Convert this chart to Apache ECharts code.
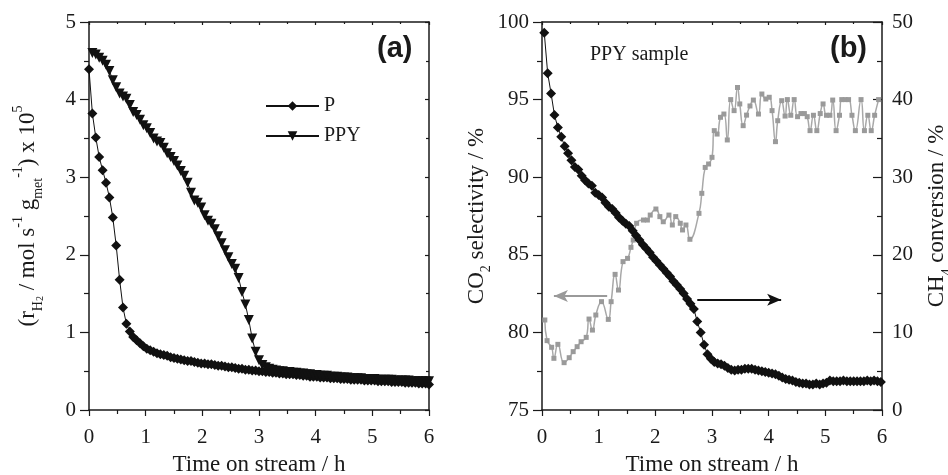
<!DOCTYPE html>
<html>
<head>
<meta charset="utf-8">
<script src="https://cdn.jsdelivr.net/npm/echarts@6/dist/echarts.min.js"></script>
<style>
  html, body { margin: 0; padding: 0; background: #fff; }
  #chart { width: 948px; height: 475px; }
</style>
</head>
<body>
<div id="chart"></div>
<script>
// panel (a): H2 production rate, x 10^5
const hoursA = [0, 0.06, 0.12, 0.18, 0.24, 0.3, 0.36, 0.42, 0.48, 0.54,
  0.6, 0.66, 0.72, 0.78, 0.84, 0.9, 0.96, 1.02, 1.08, 1.14,
  1.2, 1.26, 1.32, 1.38, 1.44, 1.5, 1.56, 1.62, 1.68, 1.74,
  1.8, 1.86, 1.92, 1.98, 2.04, 2.1, 2.16, 2.22, 2.28, 2.34,
  2.4, 2.46, 2.52, 2.58, 2.64, 2.7, 2.76, 2.82, 2.88, 2.94,
  3.0, 3.06, 3.12, 3.18, 3.24, 3.3, 3.36, 3.42, 3.48, 3.54,
  3.6, 3.66, 3.72, 3.78, 3.84, 3.9, 3.96, 4.02, 4.08, 4.14,
  4.2, 4.26, 4.32, 4.38, 4.44, 4.5, 4.56, 4.62, 4.68, 4.74,
  4.8, 4.86, 4.92, 4.98, 5.04, 5.1, 5.16, 5.22, 5.28, 5.34,
  5.4, 5.46, 5.52, 5.58, 5.64, 5.7, 5.76, 5.82, 5.88, 5.94,
  6.0]

const rateP = [4.39, 3.82, 3.51, 3.26, 3.09, 2.93, 2.74, 2.48, 2.12, 1.68,
  1.32, 1.11, 1.01, 0.94, 0.90, 0.86, 0.82, 0.79, 0.77, 0.75,
  0.73, 0.72, 0.71, 0.70, 0.68, 0.67, 0.66, 0.65, 0.64, 0.63,
  0.63, 0.62, 0.61, 0.60, 0.60, 0.59, 0.59, 0.58, 0.57, 0.57,
  0.56, 0.55, 0.55, 0.54, 0.53, 0.53, 0.52, 0.52, 0.51, 0.51,
  0.50, 0.50, 0.49, 0.49, 0.48, 0.48, 0.47, 0.47, 0.46, 0.46,
  0.46, 0.45, 0.45, 0.44, 0.44, 0.43, 0.43, 0.43, 0.42, 0.42,
  0.42, 0.41, 0.41, 0.41, 0.40, 0.40, 0.40, 0.39, 0.39, 0.39,
  0.39, 0.38, 0.38, 0.38, 0.38, 0.37, 0.37, 0.37, 0.37, 0.36,
  0.36, 0.36, 0.36, 0.35, 0.35, 0.35, 0.35, 0.34, 0.34, 0.34,
  0.33]

const ratePPY = [null, 4.60, 4.58, 4.54, 4.50, 4.45, 4.37, 4.25, 4.16, 4.08,
  4.04, 4.01, 3.93, 3.84, 3.80, 3.74, 3.67, 3.63, 3.57, 3.50,
  3.46, 3.44, 3.38, 3.31, 3.26, 3.21, 3.15, 3.08, 3.02, 2.93,
  2.80, 2.70, 2.67, 2.61, 2.51, 2.44, 2.40, 2.33, 2.24, 2.15,
  2.06, 1.97, 1.88, 1.82, 1.70, 1.52, 1.36, 1.16, 0.92, 0.75,
  0.64, 0.58, 0.55, 0.53, 0.52, 0.51, 0.50, 0.50, 0.49, 0.49,
  0.48, 0.48, 0.47, 0.47, 0.46, 0.46, 0.45, 0.45, 0.44, 0.44,
  0.44, 0.43, 0.43, 0.43, 0.42, 0.42, 0.42, 0.41, 0.41, 0.41,
  0.41, 0.40, 0.40, 0.40, 0.40, 0.39, 0.39, 0.39, 0.39, 0.39,
  0.38, 0.38, 0.38, 0.38, 0.38, 0.37, 0.37, 0.37, 0.37, 0.37,
  0.37]

// panel (b): PPY sample
const hoursB = [0.04, 0.1, 0.16, 0.22, 0.28, 0.34, 0.4, 0.46, 0.52, 0.58,
  0.64, 0.7, 0.76, 0.82, 0.88, 0.94, 1.0, 1.06, 1.12, 1.18,
  1.24, 1.3, 1.36, 1.42, 1.48, 1.54, 1.6, 1.66, 1.72, 1.78,
  1.84, 1.9, 1.96, 2.02, 2.08, 2.14, 2.2, 2.26, 2.32, 2.38,
  2.44, 2.5, 2.56, 2.62, 2.68, 2.74, 2.8, 2.86, 2.92, 2.98,
  3.04, 3.1, 3.16, 3.22, 3.28, 3.34, 3.4, 3.46, 3.52, 3.58,
  3.64, 3.7, 3.76, 3.82, 3.88, 3.94, 4.0, 4.06, 4.12, 4.18,
  4.24, 4.3, 4.36, 4.42, 4.48, 4.54, 4.6, 4.66, 4.72, 4.78,
  4.84, 4.9, 4.96, 5.02, 5.08, 5.14, 5.2, 5.26, 5.32, 5.38,
  5.44, 5.5, 5.56, 5.62, 5.68, 5.74, 5.8, 5.86, 5.92, 5.98]

const convCH4 = [48.6, 43.4, 40.8, 38.0, 36.4, 35.2, 34.0, 33.1, 32.2, 31.3,
  31.0, 30.2, 29.6, 29.2, 28.9, 28.0, 27.7, 27.4, 26.7, 26.2,
  25.9, 25.4, 24.8, 24.4, 24.0, 23.7, 23.1, 22.5, 21.9, 21.3,
  20.8, 20.3, 19.7, 19.2, 18.7, 18.2, 17.7, 17.2, 16.6, 16.1,
  15.6, 15.0, 14.3, 13.7, 13.0, 11.4, 10.0, 8.4, 7.2, 6.6,
  6.2, 6.0, 5.9, 5.7, 5.4, 5.2, 5.1, 5.2, 5.2, 5.3,
  5.3, 5.3, 5.2, 5.1, 5.0, 4.9, 4.8, 4.7, 4.6, 4.4,
  4.2, 4.0, 3.9, 3.8, 3.6, 3.5, 3.4, 3.4, 3.3, 3.3,
  3.4, 3.3, 3.4, 3.5, 3.8, 3.7, 3.7, 3.7, 3.8, 3.7,
  3.7, 3.7, 3.7, 3.7, 3.7, 3.8, 3.7, 3.8, 3.7, 3.6]

const selHours = [0.05, 0.09, 0.17, 0.21, 0.28, 0.39, 0.48, 0.55, 0.62, 0.69,
  0.78, 0.83, 0.89, 0.95, 1.05, 1.17, 1.22, 1.29, 1.35, 1.43,
  1.51, 1.57, 1.61, 1.67, 1.79, 1.86, 1.91, 2.01, 2.08, 2.14,
  2.24, 2.30, 2.36, 2.44, 2.48, 2.54, 2.61, 2.77, 2.82, 2.88,
  2.94, 3.00, 3.04, 3.09, 3.15, 3.21, 3.27, 3.33, 3.39, 3.45,
  3.49, 3.55, 3.61, 3.67, 3.73, 3.82, 3.88, 3.95, 4.01, 4.06,
  4.12, 4.16, 4.23, 4.29, 4.33, 4.39, 4.45, 4.51, 4.57, 4.63,
  4.68, 4.73, 4.79, 4.85, 4.91, 4.96, 5.02, 5.08, 5.13, 5.19,
  5.25, 5.29, 5.35, 5.41, 5.47, 5.53, 5.63, 5.69, 5.75, 5.81,
  5.87, 5.94]

const selCO2 = [80.8, 79.47, 79.04, 78.33, 79.23, 78.05, 78.37, 78.76, 79.08, 79.4,
  79.68, 80.86, 80.15, 81.12, 81.98, 80.84, 81.98, 83.74, 82.73, 84.56,
  84.77, 85.48, 85.95, 87.03, 87.24, 87.24, 87.56, 87.95, 87.46, 87.13,
  87.56, 86.92, 87.46, 87.03, 86.6, 86.92, 86.0, 87.67, 88.96, 90.63,
  90.85, 91.28, 93.0, 92.78, 93.86, 94.07, 92.4, 95.0, 94.29, 95.78,
  94.72, 93.32, 94.0, 94.59, 94.97, 94.07, 95.36, 95.04, 95.15, 94.29,
  92.29, 93.64, 94.93, 93.94, 95.0, 93.99, 95.0, 93.9, 94.1, 94.1,
  93.9, 93.0, 93.99, 93.0, 94.1, 94.72, 93.99, 93.99, 94.97, 93.0,
  93.99, 95.0, 95.0, 95.0, 93.99, 93.0, 95.0, 93.0, 93.99, 93.0,
  93.99, 95.0]

const pairs = (xs, ys) => xs.map((x, i) => [x, ys[i]]).filter(p => p[1] != null)

const serif = 'Liberation Serif'
const ink = '#1a1a1a'
const grey = '#9a9a9a'

const frameLine = { show: true, onZero: false, lineStyle: { color: ink, width: 1.5 } }

function timeAxis (grid, pos) {
  const bottom = pos === 'bottom'
  return {
    gridIndex: grid,
    type: 'value',
    position: pos,
    min: 0,
    max: 6,
    interval: 1,
    axisLine: frameLine,
    axisTick: { show: true, inside: !bottom, length: bottom ? 6 : 3, lineStyle: { color: ink, width: 1.2 } },
    minorTick: { show: true, splitNumber: 2, length: bottom ? 4 : 2, lineStyle: { color: ink, width: 1.2 } },
    splitLine: { show: false },
    axisLabel: { show: bottom, fontFamily: serif, fontSize: 21, color: ink, margin: 17 },
    name: bottom ? 'Time on stream / h' : '',
    nameLocation: 'middle',
    nameGap: 43,
    nameTextStyle: { fontFamily: serif, fontSize: 23, color: ink }
  }
}

const nameRich = {
  m: { fontFamily: serif, fontSize: 23, color: ink, lineHeight: 34, verticalAlign: 'middle' },
  s: { fontFamily: serif, fontSize: 14, color: ink, lineHeight: 22, verticalAlign: 'bottom' },
  ss: { fontFamily: serif, fontSize: 10, color: ink, lineHeight: 14, verticalAlign: 'bottom' },
  u: { fontFamily: serif, fontSize: 14, color: ink, lineHeight: 22, verticalAlign: 'top' }
}

function valueAxis (grid, pos, min, max, step, opts) {
  return Object.assign({
    gridIndex: grid,
    type: 'value',
    position: pos,
    min: min,
    max: max,
    interval: step,
    axisLine: frameLine,
    axisTick: { show: true, inside: false, length: 9, lineStyle: { color: ink, width: 1.2 } },
    minorTick: { show: true, splitNumber: 2, length: 5, lineStyle: { color: ink, width: 1.2 } },
    splitLine: { show: false },
    axisLabel: { show: true, fontFamily: serif, fontSize: 21, color: ink, margin: 13 },
    nameLocation: 'middle',
    nameRotate: 90,
    nameTextStyle: { rich: nameRich }
  }, opts)
}

const option = {
  animation: false,
  backgroundColor: '#fff',
  grid: [
    { left: 89, top: 22, width: 340, height: 388, outerBoundsMode: 'none' },
    { left: 542, top: 22, width: 340, height: 388, outerBoundsMode: 'none' }
  ],
  legend: {
    data: ['P', 'PPY'],
    orient: 'vertical',
    left: 265,
    top: 96,
    padding: 0,
    itemWidth: 53,
    itemHeight: 12,
    itemGap: 10,
    textStyle: { fontFamily: serif, fontSize: 20, color: ink }
  },
  xAxis: [
    timeAxis(0, 'bottom'),
    timeAxis(0, 'top'),
    timeAxis(1, 'bottom'),
    timeAxis(1, 'top')
  ],
  yAxis: [
    valueAxis(0, 'left', 0, 5, 1, {
      name: '{m|(r}{s|H}{ss|2}{m| / mol s}{u|-1}{m| g}{s|met}{u|-1}{m|) x 10}{u|5}',
      nameGap: 44
    }),
    valueAxis(0, 'right', 0, 5, 1, {
      axisTick: { show: true, inside: true, length: 4, lineStyle: { color: ink, width: 1.2 } },
      minorTick: { show: true, splitNumber: 2, length: 3, lineStyle: { color: ink, width: 1.2 } },
      axisLabel: { show: false }
    }),
    valueAxis(1, 'left', 75, 100, 5, {
      name: '{m|CO}{s|2}{m| selectivity / %}',
      nameGap: 48
    }),
    valueAxis(1, 'right', 0, 50, 10, {
      axisTick: { show: true, inside: true, length: 9, lineStyle: { color: ink, width: 1.2 } },
      minorTick: { show: true, splitNumber: 2, length: 5, lineStyle: { color: ink, width: 1.2 } },
      axisLabel: { show: true, fontFamily: serif, fontSize: 21, color: ink, margin: 10 },
      name: '{m|CH}{s|4}{m| conversion / %}',
      nameGap: 38
    })
  ],
  series: [
    {
      name: 'P',
      type: 'line',
      xAxisIndex: 0,
      yAxisIndex: 0,
      data: pairs(hoursA, rateP),
      symbol: 'diamond',
      symbolSize: 10,
      itemStyle: { color: '#111' },
      lineStyle: { color: '#111', width: 1 }
    },
    {
      name: 'PPY',
      type: 'line',
      xAxisIndex: 0,
      yAxisIndex: 0,
      data: pairs(hoursA, ratePPY),
      symbol: 'triangle',
      symbolRotate: 180,
      symbolSize: 10,
      itemStyle: { color: '#111' },
      lineStyle: { color: '#111', width: 1 }
    },
    {
      name: 'CO2 selectivity',
      type: 'line',
      xAxisIndex: 2,
      yAxisIndex: 2,
      data: pairs(selHours, selCO2),
      smooth: 0.5,
      symbol: 'rect',
      symbolSize: 5,
      itemStyle: { color: grey },
      lineStyle: { color: '#a8a8a8', width: 1.5 },
      markLine: {
        silent: true,
        symbol: ['none', 'arrow'],
        symbolSize: [9, 14],
        label: { show: false },
        lineStyle: { color: grey, width: 2, type: 'solid' },
        data: [[{ coord: [1.15, 82.35] }, { coord: [0.21, 82.35] }]]
      }
    },
    {
      name: 'CH4 conversion',
      type: 'line',
      xAxisIndex: 2,
      yAxisIndex: 3,
      data: pairs(hoursB, convCH4),
      symbol: 'diamond',
      symbolSize: 10,
      itemStyle: { color: '#111' },
      lineStyle: { color: '#111', width: 1 },
      markLine: {
        silent: true,
        symbol: ['none', 'arrow'],
        symbolSize: [9, 14],
        label: { show: false },
        lineStyle: { color: '#111', width: 2, type: 'solid' },
        data: [[{ coord: [2.74, 14.2] }, { coord: [4.22, 14.2] }]]
      }
    }
  ],
  graphic: [
    { type: 'text', left: 377, top: 34, style: { text: '(a)', font: 'bold 29px "Liberation Sans"', fill: ink } },
    { type: 'text', left: 830, top: 34, style: { text: '(b)', font: 'bold 29px "Liberation Sans"', fill: ink } },
    { type: 'text', left: 590, top: 45, style: { text: 'PPY sample', font: '20px "Liberation Serif"', fill: ink } }
  ]
}

const chart = echarts.init(document.getElementById('chart'))
chart.setOption(option)

window.addEventListener('resize', () => {
  chart.resize()
})
</script>
</body>
</html>
